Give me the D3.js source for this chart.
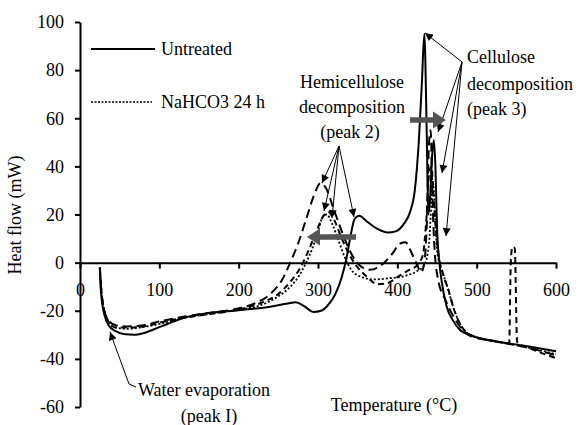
<!DOCTYPE html>
<html>
<head>
<meta charset="utf-8">
<script src="https://cdn.jsdelivr.net/npm/d3@7"></script>
<style>
  html, body { margin: 0; padding: 0; background: #fff; }
  svg { display: block; }
  svg text { font-family: "Liberation Serif", "Times New Roman", serif !important; fill: #000; }
</style>
</head>
<body>
<svg id="chart" width="587" height="425"></svg>
<script>
// DSC heat-flow curves: temperature (°C) vs heat flow (mW)
const xTicks = [0, 100, 200, 300, 400, 500, 600];
const yTicks = [-60, -40, -20, 0, 20, 40, 60, 80, 100];

const untreatedT = [25, 26, 28, 31, 36, 45, 57, 68, 80, 95, 110, 130, 160, 200, 240, 262, 272, 282, 294, 304, 313, 322, 330, 336, 341, 346, 352, 362, 375, 388, 398, 408, 416, 422, 427, 431, 434, 437, 439, 441, 444, 446, 448, 450, 453, 456, 462, 470, 479, 495, 520, 560, 600];
const untreatedY = [-2, -10, -17, -22, -26, -28.5, -29.8, -30, -29.3, -27.5, -25.5, -23, -21, -19.8, -18.3, -17, -16.5, -18, -20.5, -20, -17.5, -13, -6, 2, 11, 18, 19.5, 17, 14, 12.5, 13, 16, 21, 30, 50, 75, 95, 55, 20, 25, 45, 51, 40, 15, 0, -8, -18, -24, -28, -30.5, -32.5, -34.5, -36.8];

const nahco3T = [25, 27, 30, 35, 45, 60, 75, 100, 130, 160, 200, 225, 245, 262, 275, 285, 293, 300, 306, 311, 318, 326, 334, 342, 355, 370, 390, 410, 425, 434, 440, 443, 445, 447, 450, 456, 463, 472, 482, 495, 520, 560, 600];
const nahco3Y = [-2, -12, -19, -24, -27, -27.5, -27, -25.5, -23, -21.5, -19.5, -18, -15, -11, -6, 0, 6, 13, 19, 20, 16, 9, 2, -3, -6, -7, -6.5, -5.5, -3.5, -1, 8, 25, 33, 25, 5, -3, -10, -20, -27, -30.5, -32.5, -35, -38];

const longDashT = [25, 27, 30, 35, 45, 60, 80, 100, 130, 160, 200, 220, 240, 255, 265, 275, 285, 295, 303, 310, 320, 330, 340, 352, 365, 378, 392, 404, 410, 418, 425, 430, 434, 437, 440, 442, 444, 447, 452, 460, 470, 480, 492, 520, 560, 600];
const longDashY = [-2, -12, -19, -23.5, -26, -26.5, -26, -24.5, -22.5, -21, -19, -17, -13, -7, 0, 8, 18, 28, 33, 31, 22, 13, 5, -1, -3, -1.5, 3, 8, 8.5, 4, -1, -4, 0, 15, 50, 55, 30, 5, -8, -15, -22, -27, -30.5, -32.5, -35, -38.5];

const shortDashT = [25, 27, 30, 35, 45, 60, 80, 100, 130, 160, 200, 230, 250, 265, 278, 288, 298, 306, 313, 320, 330, 340, 350, 362, 375, 388, 400, 415, 425, 432, 437, 440, 443, 446, 449, 452, 458, 465, 472, 480, 492, 520, 541, 543, 545, 548, 551, 570, 600];
const shortDashY = [-2, -12, -19, -24, -27, -27, -26.5, -25, -23, -21.5, -19.5, -16.5, -13, -8, -2, 5, 13, 19, 21, 18, 10, 3, -2, -6, -9, -8.5, -6, -3, -1, 3, 20, 37, 40, 25, 12, 3, -5, -12, -20, -26, -30, -32.5, -33.5, 0, 6.5, 6, -33, -36, -39.7];

const legendLabels = ["Untreated", "NaHCO3 24 h"];

const svg = d3.select("#chart");
const x = d3.scaleLinear().domain([0, 600]).range([80, 556]);
const y = d3.scaleLinear().domain([-60, 100]).range([407, 22]);
const serif = "Liberation Serif";

// arrow head for the thin pointer lines
svg.append("defs").append("marker")
  .attr("id", "thinHead").attr("viewBox", "0 0 10 10")
  .attr("refX", 10).attr("refY", 5)
  .attr("markerWidth", 10).attr("markerHeight", 8)
  .attr("markerUnits", "userSpaceOnUse")
  .attr("orient", "auto")
  .append("path").attr("d", "M0,0 L10,5 L0,10 Z").attr("fill", "#000");

// axes (plain hyphen for negative labels)
const fmt = d => String(d);
const yAxis = d3.axisLeft(y).tickValues(yTicks).tickFormat(fmt).tickSize(5).tickSizeOuter(0).tickPadding(11);
const gy = svg.append("g").attr("transform", "translate(80,0)").call(yAxis);
const xAxis = d3.axisBottom(x).tickValues(xTicks).tickFormat(fmt).tickSize(6).tickSizeOuter(0).tickPadding(15);
const gx = svg.append("g").attr("transform", `translate(0,${y(0)})`).call(xAxis);
[gx, gy].forEach(g => {
  g.attr("font-family", serif).attr("font-size", 18);
  g.select(".domain").attr("stroke", "#000").attr("stroke-width", 2);
  g.selectAll(".tick line").attr("stroke", "#000").attr("stroke-width", 2);
  g.selectAll(".tick text").attr("font-size", 18).style("font-family", serif).attr("fill", "#000");
});

// curves
const lineGen = d3.line().x(d => x(d[0])).y(d => y(d[1])).curve(d3.curveMonotoneX);
const series = [
  { T: longDashT, Y: longDashY, dash: "9,5", w: 2 },
  { T: shortDashT, Y: shortDashY, dash: "6,4", w: 2 },
  { T: nahco3T, Y: nahco3Y, dash: "2,2", w: 1.8 },
  { T: untreatedT, Y: untreatedY, dash: null, w: 2 }
];
series.forEach(s => {
  const pts = s.T.map((t, i) => [t, s.Y[i]]);
  svg.append("path").datum(pts)
    .attr("d", lineGen)
    .attr("fill", "none").attr("stroke", "#000")
    .attr("stroke-width", s.w)
    .attr("stroke-dasharray", s.dash);
});

// legend
const legend = svg.append("g");
legend.append("line").attr("x1", 91).attr("x2", 155).attr("y1", 49).attr("y2", 49)
  .attr("stroke", "#000").attr("stroke-width", 2);
legend.append("line").attr("x1", 91).attr("x2", 152).attr("y1", 102).attr("y2", 102)
  .attr("stroke", "#000").attr("stroke-width", 1.5).attr("stroke-dasharray", "2,1.5");
legend.append("text").attr("x", 161).attr("y", 55).attr("font-size", 18).text(legendLabels[0]);
legend.append("text").attr("x", 161).attr("y", 108).attr("font-size", 18).text(legendLabels[1]);

// axis titles
svg.append("text").attr("transform", "translate(21,215) rotate(-90)")
  .attr("text-anchor", "middle").attr("font-size", 18).text("Heat flow (mW)");
svg.append("text").attr("x", 394).attr("y", 411)
  .attr("text-anchor", "middle").attr("font-size", 18).text("Temperature (°C)");

// annotations
const ann = svg.append("g").attr("font-size", 18);
ann.append("text").attr("x", 352).attr("y", 88).attr("text-anchor", "middle").text("Hemicellulose");
ann.append("text").attr("x", 352).attr("y", 113).attr("text-anchor", "middle").text("decomposition");
ann.append("text").attr("x", 350).attr("y", 138).attr("text-anchor", "middle").text("(peak 2)");
ann.append("text").attr("x", 467).attr("y", 63).text("Cellulose");
ann.append("text").attr("x", 467).attr("y", 90).text("decomposition");
ann.append("text").attr("x", 467).attr("y", 115).text("(peak 3)");
ann.append("text").attr("x", 138).attr("y", 396).text("Water evaporation");
ann.append("text").attr("x", 209).attr("y", 422).attr("text-anchor", "middle").text("(peak I)");

function arrow(x1, y1, x2, y2) {
  svg.append("line").attr("x1", x1).attr("y1", y1).attr("x2", x2).attr("y2", y2)
    .attr("stroke", "#000").attr("stroke-width", 1).attr("marker-end", "url(#thinHead)");
}
// peak 2 pointers
[[322, 183], [324, 211], [332, 218], [354, 217]].forEach(p => arrow(339, 146, p[0], p[1]));
// peak 3 pointers
[[425, 33], [438, 132], [442, 173], [446, 236]].forEach(p => arrow(462, 62, p[0], p[1]));
// water evaporation pointer
svg.append("path").attr("d", "M136,387 L129,384 L110,332")
  .attr("fill", "none").attr("stroke", "#000").attr("stroke-width", 1)
  .attr("marker-end", "url(#thinHead)");

// thick grey shift arrows (peak shifts after treatment)
function blockArrow(x0, x1, yc) {
  const dir = Math.sign(x1 - x0);
  const headLen = 13, headHalf = 8.5, shaftHalf = 2.8;
  const xb = x1 - dir * headLen;
  const pts = [
    [x0, yc - shaftHalf], [xb, yc - shaftHalf], [xb, yc - headHalf],
    [x1, yc], [xb, yc + headHalf], [xb, yc + shaftHalf], [x0, yc + shaftHalf]
  ];
  svg.append("path").attr("d", "M" + pts.map(p => p.join(",")).join("L") + "Z")
    .attr("fill", "#555");
}
blockArrow(356, 307, 237);
blockArrow(410, 446, 120);
</script>
</body>
</html>
